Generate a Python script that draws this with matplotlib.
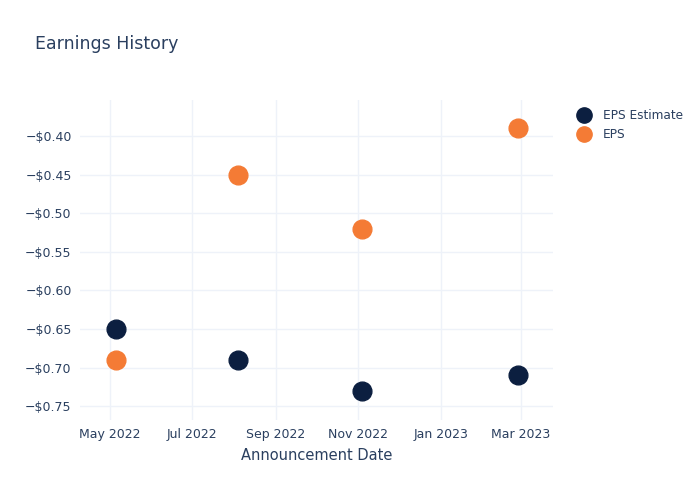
import matplotlib
matplotlib.use("Agg")
import matplotlib.pyplot as plt
import matplotlib.dates as mdates
from matplotlib.lines import Line2D
import datetime as dt

dates = ["2022-05-06", "2022-08-04", "2022-11-04", "2023-02-27"]
eps_estimate = [-0.65, -0.69, -0.73, -0.71]
eps_actual = [-0.69, -0.45, -0.52, -0.39]
series_names = ["EPS Estimate", "EPS"]
x_ticks = ["2022-05-01", "2022-07-01", "2022-09-01", "2022-11-01", "2023-01-01", "2023-03-01"]
x_tick_labels = ["May 2022", "Jul 2022", "Sep 2022", "Nov 2022", "Jan 2023", "Mar 2023"]
y_ticks = [-0.75, -0.70, -0.65, -0.60, -0.55, -0.50, -0.45, -0.40]

text_color = "#2a3f5f"
grid_color = "#eef2f9"
c_est = "#0c1f40"
c_eps = "#f47b35"

plt.rcParams['font.family'] = ['DejaVu Sans']
fig = plt.figure(figsize=(7, 5), dpi=100)
ax = fig.add_axes([80/700, 80/500, 473/700, 320/500])

xd = [dt.datetime.strptime(d, "%Y-%m-%d") for d in dates]
ax.plot(xd, eps_estimate, 'o', color=c_est, markersize=13.5, zorder=3, label=series_names[0])
ax.plot(xd, eps_actual, 'o', color=c_eps, markersize=13.5, zorder=3, label=series_names[1])

ax.set_xlim(dt.datetime(2022, 4, 9), dt.datetime(2023, 3, 25))
ax.set_ylim(-0.768, -0.3533)
ax.set_xticks([dt.datetime.strptime(d, "%Y-%m-%d") for d in x_ticks])
ax.set_xticklabels(x_tick_labels)
ax.set_yticks(y_ticks)
ax.set_yticklabels(["\u2212$%.2f" % abs(v) for v in y_ticks])

for s in ax.spines.values():
    s.set_visible(False)
ax.grid(True, color=grid_color, linewidth=1, zorder=0)
ax.set_axisbelow(True)
ax.tick_params(axis='both', length=0, colors=text_color, labelsize=9, pad=6)
ax.set_xlabel("Announcement Date", color=text_color, fontsize=10.5, labelpad=5)

fig.text(35/700, 1 - 44/500, "Earnings History", color=text_color, fontsize=12.5, va='center', ha='left')

handles = [Line2D([], [], marker='o', linestyle='', color=c_est, markersize=11),
           Line2D([], [], marker='o', linestyle='', color=c_eps, markersize=11)]
leg = fig.legend(handles, series_names, loc='upper left', bbox_to_anchor=(572/700, 1 - 104/500),
                 frameon=False, fontsize=8.7, labelcolor=text_color, handletextpad=0.95,
                 labelspacing=0.5, handlelength=1.2, borderaxespad=0)

fig.savefig("out.png", dpi=100)
